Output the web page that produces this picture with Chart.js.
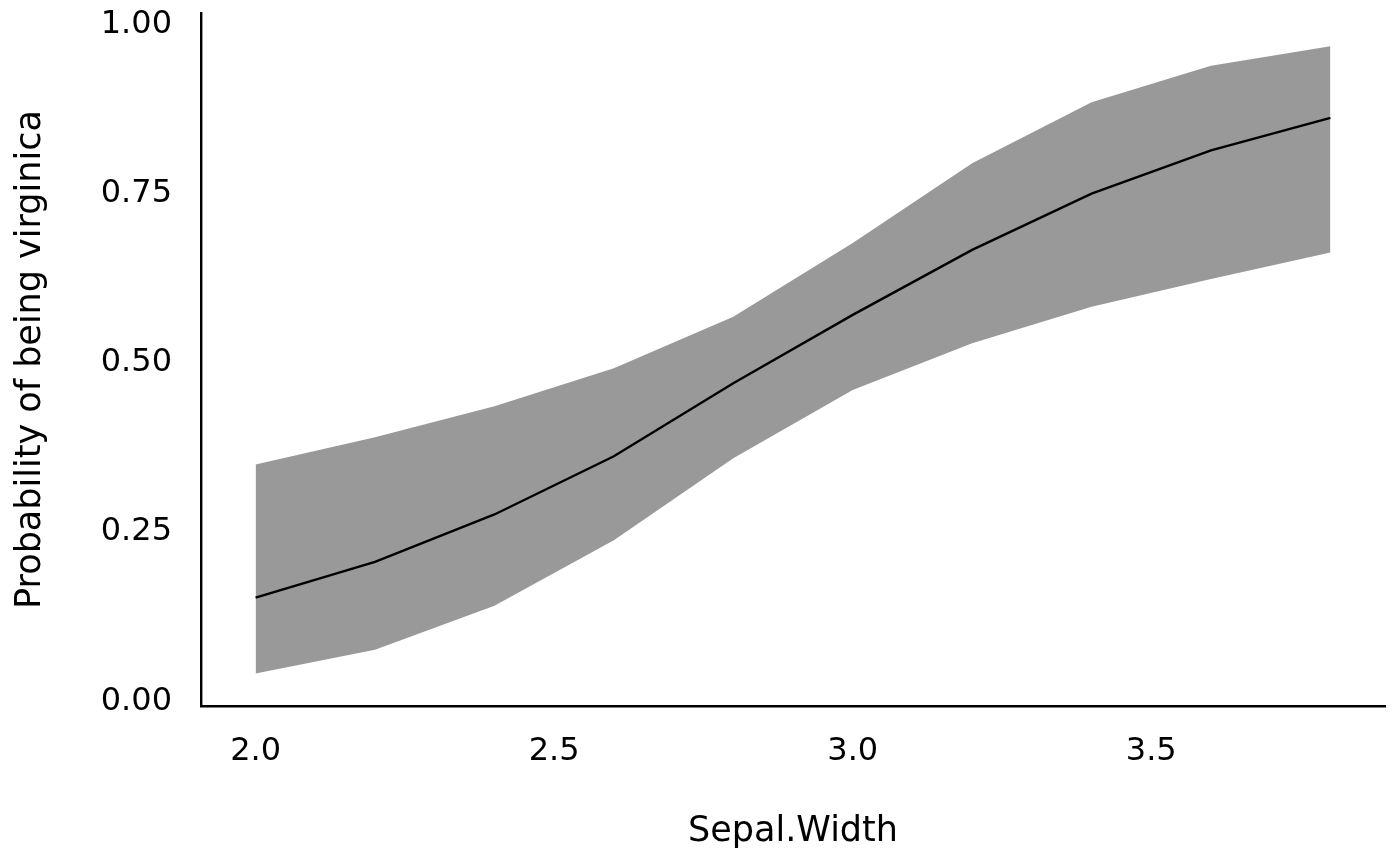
<!DOCTYPE html>
<html>
<head>
<meta charset="utf-8">
<script src="https://cdn.jsdelivr.net/npm/chart.js@4.4.1/dist/chart.umd.min.js"></script>
<style>
  html, body { margin: 0; padding: 0; background: #fff; }
  #wrap { width: 1400px; height: 865px; }
</style>
</head>
<body>
<div id="wrap"><canvas id="myChart"></canvas></div>
<script>
// Sepal.Width grid and predicted probability with its band
const sepalWidth = [2.0, 2.2, 2.4, 2.6, 2.8, 3.0, 3.2, 3.4, 3.6, 3.8];
const fitProb   = [0.153, 0.206, 0.276, 0.362, 0.470, 0.571, 0.667, 0.750, 0.814, 0.862];
const upperProb = [0.350, 0.390, 0.436, 0.492, 0.568, 0.677, 0.795, 0.885, 0.939, 0.968];
const lowerProb = [0.041, 0.076, 0.141, 0.238, 0.359, 0.460, 0.529, 0.583, 0.624, 0.663];
const xTicks = [2.0, 2.5, 3.0, 3.5];
const yTicks = [0.00, 0.25, 0.50, 0.75, 1.00];

const toPoints = (ys) => sepalWidth.map((x, i) => ({x: x, y: ys[i]}));

Chart.defaults.font.family = 'DejaVu Sans';
Chart.defaults.color = '#000';

new Chart('myChart', {
  type: 'line',
  data: {
    datasets: [
      {
        // fitted line, on top
        data: toPoints(fitProb),
        borderColor: '#000',
        borderWidth: 2.4,
        pointRadius: 0,
        fill: false,
        tension: 0
      },
      {
        data: toPoints(upperProb),
        borderWidth: 0,
        borderColor: 'rgba(0,0,0,0)',
        backgroundColor: '#999999',
        pointRadius: 0,
        fill: '+1',
        tension: 0
      },
      {
        data: toPoints(lowerProb),
        borderWidth: 0,
        borderColor: 'rgba(0,0,0,0)',
        pointRadius: 0,
        fill: false,
        tension: 0
      }
    ]
  },
  options: {
    responsive: true,
    maintainAspectRatio: false,
    animation: false,
    devicePixelRatio: 1,
    layout: { padding: { top: 13, right: 15, left: 0, bottom: 0 } },
    plugins: { legend: { display: false }, tooltip: { enabled: false } },
    scales: {
      x: {
        type: 'linear',
        min: 1.9086,
        max: 3.8914,
        grid: { display: false, drawTicks: false },
        border: { display: true, color: '#000', width: 2.4 },
        afterBuildTicks: (scale) => { scale.ticks = xTicks.map(v => ({value: v})); },
        afterFit: (scale) => { scale.height = 159; scale.paddingLeft = 0; scale.paddingRight = 0; },
        ticks: {
          font: { size: 32 },
          padding: 26,
          maxRotation: 0,
          callback: (v) => Number(v).toFixed(1)
        },
        title: {
          display: true,
          text: 'Sepal.Width',
          font: { size: 35 },
          padding: { top: 0, bottom: 12 }
        }
      },
      y: {
        type: 'linear',
        min: -0.007,
        max: 1.017,
        grid: { display: false, drawTicks: false },
        border: { display: true, color: '#000', width: 2.4 },
        afterBuildTicks: (scale) => { scale.ticks = yTicks.map(v => ({value: v})); },
        afterFit: (scale) => { scale.width = 201; scale.paddingTop = 0; scale.paddingBottom = 0; },
        ticks: {
          font: { size: 32 },
          padding: 29,
          callback: (v) => Number(v).toFixed(2)
        },
        title: {
          display: true,
          text: 'Probability of being virginica',
          font: { size: 35 },
          padding: { top: 10, bottom: 0 }
        }
      }
    }
  }
});
</script>
</body>
</html>
